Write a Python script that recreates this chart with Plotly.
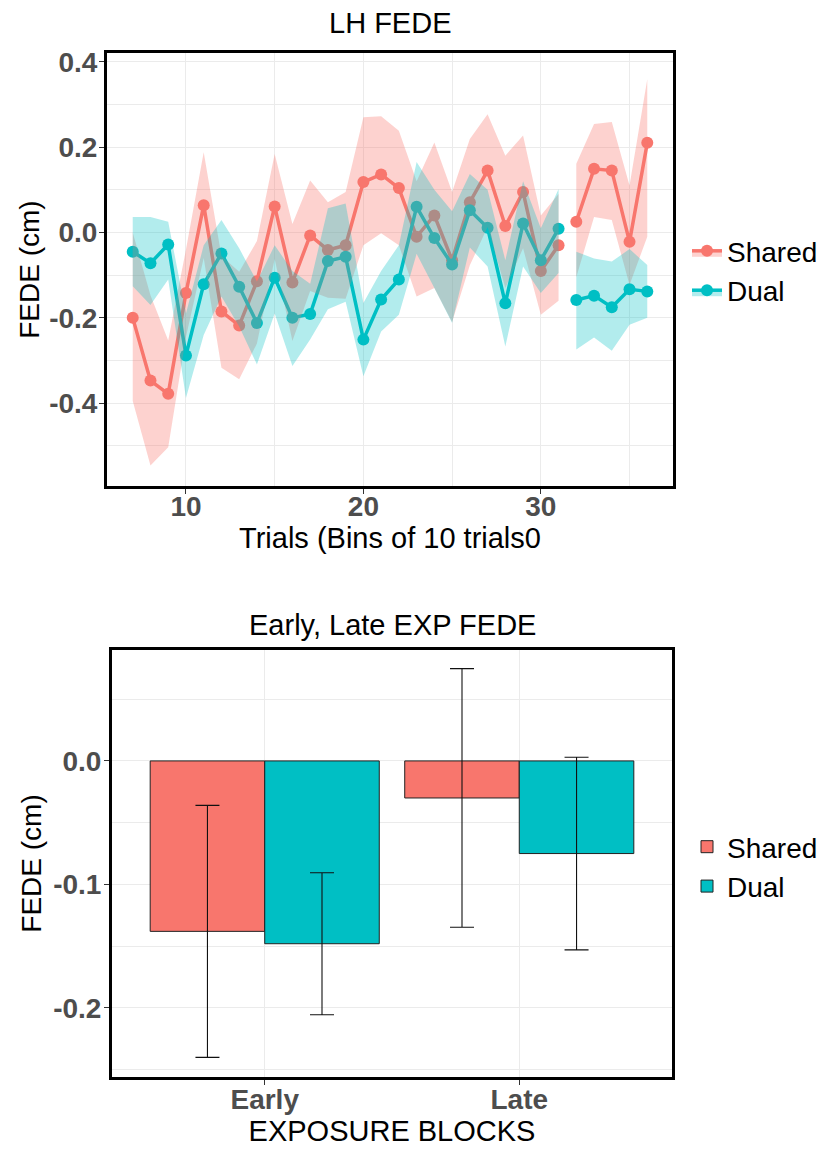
import plotly.graph_objects as go

# ---------------- LH FEDE: trial-bin series ----------------
trial_bins = list(range(7, 37))
first_block_end = 31  # line and band restart after this bin

shared_mean = [-0.200, -0.347, -0.378, -0.142, 0.064, -0.185, -0.218, -0.114, 0.061, -0.117,
               -0.007, -0.041, -0.030, 0.118, 0.136, 0.104, -0.010, 0.040, -0.065, 0.071,
               0.145, 0.015, 0.095, -0.090, -0.030,
               0.025, 0.149, 0.145, -0.022, 0.210]
shared_lower = [-0.395, -0.546, -0.503, -0.245, -0.060, -0.317, -0.344, -0.260, -0.062, -0.254,
                -0.137, -0.153, -0.155, -0.030, -0.002, -0.030, -0.150, -0.130, -0.210, -0.077,
                0.013, -0.130, -0.037, -0.193, -0.160,
                -0.105, 0.036, 0.029, -0.123, -0.010]
shared_upper = [0.000, -0.147, -0.253, -0.040, 0.188, -0.055, -0.092, -0.020, 0.184, 0.020,
                0.122, 0.071, 0.095, 0.270, 0.272, 0.238, 0.120, 0.211, 0.095, 0.219,
                0.277, 0.180, 0.227, 0.040, 0.090,
                0.161, 0.254, 0.259, 0.110, 0.359]

dual_mean = [-0.045, -0.072, -0.028, -0.288, -0.121, -0.049, -0.127, -0.212, -0.106, -0.200,
             -0.191, -0.067, -0.057, -0.251, -0.157, -0.110, 0.060, -0.013, -0.075, 0.052,
             0.011, -0.166, 0.021, -0.065, 0.009,
             -0.158, -0.148, -0.175, -0.133, -0.138]
dual_lower = [-0.126, -0.170, -0.110, -0.388, -0.240, -0.150, -0.220, -0.309, -0.190, -0.313,
              -0.251, -0.180, -0.162, -0.337, -0.232, -0.193, -0.050, -0.130, -0.212, -0.035,
              -0.080, -0.267, -0.080, -0.142, -0.095,
              -0.274, -0.246, -0.277, -0.216, -0.200]
dual_upper = [0.036, 0.036, 0.025, -0.190, -0.030, 0.029, -0.037, -0.115, -0.030, -0.090,
              -0.120, 0.057, 0.068, -0.165, -0.090, -0.030, 0.165, 0.100, 0.050, 0.137,
              0.100, -0.065, 0.120, 0.010, 0.102,
              -0.045, -0.061, -0.068, -0.039, -0.076]

top_x_ticks = [10, 20, 30]
top_y_ticks = [-0.4, -0.2, 0.0, 0.2, 0.4]
top_y_labels = ["-0.4", "-0.2", "0.0", "0.2", "0.4"]

# ---------------- Early / Late exposure bars ----------------
blocks = ["Early", "Late"]
shared_bar = [-0.138, -0.030]
shared_bar_err = [0.102, 0.1047]
dual_bar = [-0.148, -0.075]
dual_bar_err = [0.0575, 0.078]

bottom_y_ticks = [-0.2, -0.1, 0.0]
bottom_y_labels = ["-0.2", "-0.1", "0.0"]

# ---------------- styling ----------------
RED = "#F8766D"
TEAL = "#00BFC4"
RED_BAND = "rgba(248,118,109,0.33)"
TEAL_BAND = "rgba(0,191,196,0.30)"
FONT = "Liberation Sans, Arial, sans-serif"
W, H = 835, 1149


def segments(values):
    """Split a per-bin list into the two blocks of trials."""
    cut = trial_bins.index(first_block_end) + 1
    return [values[:cut], values[cut:]]


fig = go.Figure()

series = [
    ("Shared", RED, RED_BAND, shared_mean, shared_lower, shared_upper),
    ("Dual", TEAL, TEAL_BAND, dual_mean, dual_lower, dual_upper),
]

# lines and points
for name, col, band, mean, lo, hi in series:
    for xs, ys in zip(segments(trial_bins), segments(mean)):
        fig.add_trace(go.Scatter(
            x=xs, y=ys, mode="lines+markers", showlegend=False,
            line=dict(color=col, width=3.5),
            marker=dict(color=col, size=12),
            xaxis="x", yaxis="y", hoverinfo="skip"))

# error bands drawn over the lines
for name, col, band, mean, lo, hi in series:
    for xs, l, u in zip(segments(trial_bins), segments(lo), segments(hi)):
        fig.add_trace(go.Scatter(
            x=xs + xs[::-1], y=u + l[::-1], mode="lines", fill="toself",
            fillcolor=band, line=dict(width=0), showlegend=False,
            xaxis="x", yaxis="y", hoverinfo="skip"))

# legend entries for the trial-bin panel
for name, col, band, *_ in series:
    fig.add_trace(go.Scatter(
        x=[None], y=[None], mode="lines+markers", name=name,
        line=dict(color=col, width=3.5), marker=dict(color=col, size=12),
        fill="toself", fillcolor=band,
        xaxis="x", yaxis="y", legend="legend"))

# bar panel
for name, col, vals, errs in [("Shared", RED, shared_bar, shared_bar_err),
                              ("Dual", TEAL, dual_bar, dual_bar_err)]:
    fig.add_trace(go.Bar(
        x=blocks, y=vals, name=name,
        marker=dict(color=col, line=dict(color="#222222", width=1)),
        error_y=dict(type="data", array=errs, visible=True,
                     color="#111111", thickness=1.1, width=12),
        xaxis="x2", yaxis="y2", legend="legend2"))

grid_major = "#EBEBEB"
tick_font = dict(family=FONT, size=28, color="#4D4D4D", weight="bold")
xtitle_font = dict(family=FONT, size=29, color="#000000")
ytitle_font = dict(family=FONT, size=28, color="#000000")

axis_common = dict(
    showline=True, linecolor="#000000", linewidth=3, mirror=True,
    ticks="outside", ticklen=5, tickwidth=1.2, tickcolor="#333333",
    showgrid=True, gridcolor=grid_major, gridwidth=1.1, zeroline=False,
    tickfont=tick_font,
)

fig.update_layout(
    width=W, height=H, margin=dict(l=0, r=0, t=0, b=0),
    paper_bgcolor="white", plot_bgcolor="white",
    font=dict(family=FONT),
    barmode="group", bargap=0.1, bargroupgap=0.0,
    xaxis=dict(
        axis_common, domain=[107 / W, 673 / W], anchor="y",
        range=[5.55, 37.45], tickvals=top_x_ticks, ticklabelstandoff=-12,
        minor=dict(dtick=10, tick0=5, showgrid=True, gridcolor=grid_major, gridwidth=0.6, ticks=""),
        title=dict(text="Trials (Bins of 10 trials0", font=xtitle_font, standoff=2),
    ),
    yaxis=dict(
        axis_common, domain=[1 - 483 / H, 1 - 47 / H], anchor="x",
        range=[-0.595, 0.421], tickvals=top_y_ticks, ticktext=top_y_labels,
        ticklabelstandoff=-4,
        minor=dict(dtick=0.2, tick0=0.1, showgrid=True, gridcolor=grid_major, gridwidth=0.6, ticks=""),
        title=dict(text="FEDE (cm)", font=ytitle_font, standoff=2),
    ),
    xaxis2=dict(
        axis_common, domain=[112 / W, 672 / W], anchor="y2",
        range=[-0.6, 1.6], type="category", ticklabelstandoff=-10,
        title=dict(text="EXPOSURE BLOCKS", font=xtitle_font, standoff=0),
    ),
    yaxis2=dict(
        axis_common, domain=[1 - 1077 / H, 1 - 647 / H], anchor="x2",
        range=[-0.2562, 0.0901], tickvals=bottom_y_ticks, ticktext=bottom_y_labels,
        ticklabelstandoff=-3,
        minor=dict(dtick=0.1, tick0=0.05, showgrid=True, gridcolor=grid_major, gridwidth=0.6, ticks=""),
        title=dict(text="FEDE (cm)", font=ytitle_font, standoff=4),
    ),
    legend=dict(x=687 / W, y=1 - 266 / H, xanchor="left", yanchor="middle",
                font=dict(family=FONT, size=28, color="#000000"),
                bgcolor="rgba(0,0,0,0)", itemwidth=30, tracegroupgap=0),
    legend2=dict(x=687 / W, y=1 - 865 / H, xanchor="left", yanchor="middle",
                 font=dict(family=FONT, size=28, color="#000000"),
                 bgcolor="rgba(0,0,0,0)", itemwidth=30, tracegroupgap=0),
    annotations=[
        dict(text="LH FEDE", x=0.5, xref="x domain", yref="paper",
             y=1 - 17 / H, yanchor="middle", showarrow=False,
             font=dict(family=FONT, size=29, color="#000000")),
        dict(text="Early, Late EXP FEDE", x=0.5, xref="x2 domain", yref="paper",
             y=1 - 622 / H, yanchor="middle", showarrow=False,
             font=dict(family=FONT, size=29, color="#000000")),
    ],
)

fig.write_html("out.html")
